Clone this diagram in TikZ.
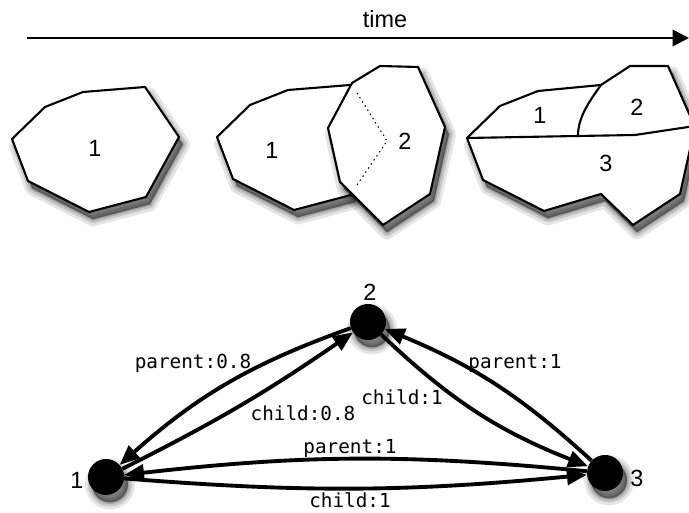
\documentclass[tikz,border=0pt]{standalone}
\usepackage{fontspec}
\setmainfont{Liberation Sans}
\setmonofont{DejaVu Sans Mono}
\usetikzlibrary{arrows.meta}

\tikzset{
  % soft shadow from a few translucent layers
  softshadow/.style={
    preaction={fill=black, draw=black, line width=12pt, line join=round, opacity=0.1,
      transform canvas={shift={(1.2mm,-2.2mm)}}},
    preaction={fill=black, draw=black, line width=7pt, line join=round, opacity=0.13,
      transform canvas={shift={(1.2mm,-2.2mm)}}},
    preaction={fill=black, draw=black, line width=3pt, line join=round, opacity=0.16,
      transform canvas={shift={(1.2mm,-2.2mm)}}},
    preaction={fill=black, opacity=0.2,
      transform canvas={shift={(1.2mm,-2.2mm)}}}},
  region/.style={draw, line width=1.8pt, line join=round, fill=white, softshadow},
  vertex/.style={circle, fill=black, inner sep=0pt, minimum size=1.08cm, softshadow},
  link/.style={line width=3.3pt, -{Triangle[length=17pt,width=14pt]}},
  tag/.style={font=\ttfamily\fontsize{16.5}{18}\selectfont},
  num/.style={font=\fontsize{20}{22}\selectfont},
}

% outline of the first cell, reused at each step
\newcommand\cellone{(12,374) -- (45,406) -- (83,421) -- (145,426) -- (179,376)
  -- (146,316) -- (89,301) -- (28,332) -- cycle}

\begin{document}
\begin{tikzpicture}[x=0.03cm, y=0.03cm]
  \useasboundingbox (0,0) rectangle (689,513);

  % time axis
  \coordinate (t0) at (27,475);
  \coordinate (t1) at (689,475);
  \draw[line width=2pt, -{Triangle[length=14pt,width=14pt]}] (t0) -- (t1);
  \node[num] at (385,494) {time};

  % step 1
  \draw[region] \cellone;
  \node[num] at (95,365) {1};

  % step 2
  \draw[region, shift={(205,2)}] \cellone;
  \draw[region] (352,430) -- (380,447) -- (418,446) -- (445,386) -- (430,319)
    -- (383,288) -- (351,320) -- (340,331) -- (328,385) -- cycle;
  \draw[line width=0.9pt, dash pattern=on 1.2pt off 3pt] (357,420) -- (387,372) -- (357,328);
  \node[num] at (272,363) {1};
  \node[num] at (405,372) {2};

  % step 3
  \draw[region] (467,375) -- (500,407) -- (538,422) -- (601,428) -- (630,447)
    -- (668,447) -- (695,386) -- (680,319) -- (633,288) -- (601,319)
    -- (544,302) -- (483,333) -- cycle;
  \draw[line width=1.8pt, line join=round] (467,375) -- (578,377) -- (635,378) -- (695,387);
  \draw[line width=1.8pt] (578,377) .. controls (578,395) and (588,410) .. (601,428);
  \node[num] at (540,398) {1};
  \node[num] at (637,406) {2};
  \node[num] at (606,350) {3};

  % lineage graph
  \node[vertex] (n1) at (106,36) {};
  \node[vertex] (n2) at (368,191) {};
  \node[vertex] (n3) at (605,40) {};
  \node[num] at (77,33) {1};
  \node[num] at (370,221) {2};
  \node[num] at (637,35) {3};

  \draw[link] (n2) to[bend right=11] (n1);
  \draw[link] (n1) to[bend right=4] (n2);
  \draw[link] (n3) to[bend right=10] (n2);
  \draw[link] (n2) to[bend right=11] (n3);
  \draw[link] (n3) to[bend right=6] (n1);
  \draw[link] (n1) to[bend right=5] (n3);

  \node[tag] at (193,150) {parent:0.8};
  \node[tag] at (303,100) {child:0.8};
  \node[tag] at (402,116) {child:1};
  \node[tag] at (515,150) {parent:1};
  \node[tag] at (350,65) {parent:1};
  \node[tag] at (350,13) {child:1};
\end{tikzpicture}
\end{document}
